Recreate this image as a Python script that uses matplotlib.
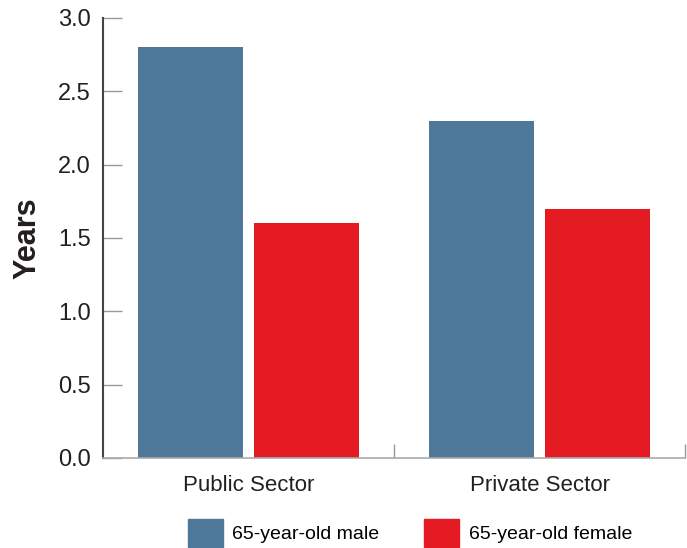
import numpy as np
import matplotlib.pyplot as plt
from matplotlib.patches import Patch

plt.rcParams['font.family'] = ['Liberation Sans', 'DejaVu Sans']

categories = ['Public Sector', 'Private Sector']
male = [2.8, 2.3]
female = [1.6, 1.7]
series_labels = ['65-year-old male', '65-year-old female']
colors = ['#4d7899', '#e51b24']

fig = plt.figure(figsize=(6.87, 5.48), dpi=100)
ax = fig.add_axes([103 / 687, 90 / 548, 582 / 687, 440 / 548])

x = np.arange(len(categories))
w = 0.36
ax.bar(x - w / 2 - 0.02, male, w, color=colors[0])
ax.bar(x + w / 2 + 0.02, female, w, color=colors[1])

ax.set_xlim(-0.5, 1.5)
ax.set_ylim(0, 3.0)
ax.set_yticks(np.arange(0, 3.01, 0.5))
ax.set_yticklabels([f'{v:.1f}' for v in np.arange(0, 3.01, 0.5)], fontsize=17, color='#231f20')
ax.tick_params(axis='y', direction='in', length=14, width=1, color='#999999', pad=9)

ax.set_xticks(x)
ax.set_xticklabels(categories, fontsize=16, color='#231f20')
ax.tick_params(axis='x', which='major', length=0, pad=12)
ax.set_xticks([0.5, 1.5], minor=True)
ax.tick_params(axis='x', which='minor', direction='in', length=10, width=1, color='#999999')

for s in ['top', 'right']:
    ax.spines[s].set_visible(False)
ax.spines['left'].set_color('#444444')
ax.spines['left'].set_linewidth(1.5)
ax.spines['bottom'].set_color('#aaaaaa')
ax.spines['bottom'].set_linewidth(1.2)

ax.set_ylabel('Years', fontsize=22, fontweight='bold', color='#231f20', labelpad=11)

handles = [Patch(color=c) for c in colors]
fig.legend(handles, series_labels, loc='center', bbox_to_anchor=(410 / 687, 15 / 548),
           ncol=2, frameon=False, fontsize=14, handlelength=1.8, handleheight=1.8,
           handletextpad=0.5, columnspacing=2.3)

fig.savefig('out.png', dpi=100)
